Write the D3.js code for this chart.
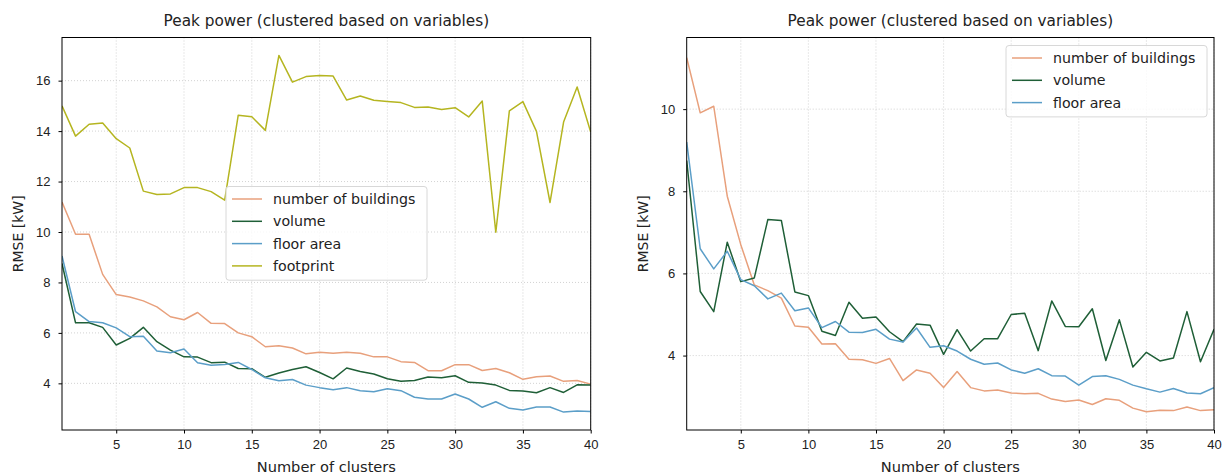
<!DOCTYPE html>
<html>
<head>
<meta charset="utf-8">
<script src="https://cdn.jsdelivr.net/npm/d3@7"></script>
<style>
  body { margin: 0; background: #fff; }
  svg { font-family: "DejaVu Sans", sans-serif; }
  .grid line { stroke: #c8c8c8; stroke-dasharray: 1,2; stroke-width: 0.8; }
  .axis text { font-size: 13px; fill: #222; }
  .axis path, .axis line { stroke: #000; }
</style>
</head>
<body>
<div id="chart"></div>
<script>
'use strict'

// x values: number of clusters
const clusters = d3.range(1, 41);

// left panel series
const leftBuildings = [11.19, 9.91, 9.91, 8.32, 7.52, 7.42, 7.27, 7.03, 6.64, 6.52,
  6.81, 6.38, 6.37, 6.0, 5.85, 5.45, 5.49, 5.40, 5.17, 5.23,
  5.19, 5.23, 5.19, 5.05, 5.05, 4.86, 4.83, 4.50, 4.50, 4.74,
  4.74, 4.51, 4.59, 4.42, 4.16, 4.26, 4.29, 4.08, 4.11, 3.97];
const leftVolume = [8.75, 6.40, 6.40, 6.22, 5.52, 5.78, 6.22, 5.65, 5.32, 5.05,
  5.04, 4.82, 4.84, 4.59, 4.58, 4.24, 4.41, 4.55, 4.66, 4.43,
  4.18, 4.61, 4.47, 4.37, 4.18, 4.08, 4.11, 4.25, 4.22, 4.30,
  4.04, 4.01, 3.93, 3.72, 3.70, 3.63, 3.83, 3.64, 3.94, 3.93];
const leftFloor = [9.05, 6.84, 6.45, 6.40, 6.20, 5.85, 5.87, 5.28, 5.21, 5.36,
  4.82, 4.72, 4.75, 4.83, 4.55, 4.22, 4.10, 4.15, 3.93, 3.83,
  3.75, 3.83, 3.71, 3.67, 3.79, 3.71, 3.45, 3.38, 3.38, 3.58,
  3.38, 3.05, 3.27, 3.01, 2.94, 3.06, 3.06, 2.86, 2.90, 2.88];
const leftFootprint = [15.0, 13.8, 14.27, 14.32, 13.70, 13.33, 11.62, 11.49, 11.51, 11.76,
  11.76, 11.60, 11.26, 14.63, 14.57, 14.03, 17.0, 15.94, 16.16, 16.2,
  16.18, 15.23, 15.39, 15.22, 15.17, 15.13, 14.94, 14.96, 14.86, 14.93,
  14.56, 15.19, 9.99, 14.80, 15.17, 13.99, 11.17, 14.36, 15.75, 13.96];

// right panel series
const rightBuildings = [11.25, 9.91, 10.07, 7.88, 6.70, 5.72, 5.58, 5.40, 4.72, 4.69,
  4.28, 4.29, 3.91, 3.90, 3.81, 3.93, 3.39, 3.65, 3.57, 3.22,
  3.61, 3.22, 3.14, 3.16, 3.09, 3.07, 3.08, 2.94, 2.88, 2.92,
  2.81, 2.95, 2.91, 2.72, 2.63, 2.67, 2.66, 2.75, 2.66, 2.68];
const rightVolume = [8.75, 5.56, 5.07, 6.76, 5.80, 5.89, 7.31, 7.29, 5.55, 5.46,
  4.59, 4.49, 5.30, 4.91, 4.94, 4.58, 4.34, 4.77, 4.74, 4.03,
  4.63, 4.11, 4.41, 4.41, 5.0, 5.03, 4.12, 5.33, 4.71, 4.70,
  5.14, 3.88, 4.87, 3.72, 4.08, 3.87, 3.94, 5.07, 3.85, 4.64];
const rightFloor = [9.2, 6.60, 6.11, 6.54, 5.85, 5.70, 5.38, 5.52, 5.09, 5.16,
  4.68, 4.83, 4.57, 4.56, 4.64, 4.40, 4.33, 4.67, 4.20, 4.24,
  4.11, 3.91, 3.79, 3.82, 3.65, 3.57, 3.68, 3.51, 3.50, 3.28,
  3.49, 3.51, 3.42, 3.28, 3.19, 3.11, 3.20, 3.09, 3.07, 3.22];

const xTicks = [5, 10, 15, 20, 25, 30, 35, 40];
const leftYTicks = [4, 6, 8, 10, 12, 14, 16];
const rightYTicks = [4, 6, 8, 10];

const colors = {
  buildings: '#e8a07c',
  volume: '#1f5f37',
  floor: '#5b9ec8',
  footprint: '#b5b520'
};

const W = 1228, H = 476;
const svg = d3.select('#chart').append('svg')
  .attr('width', W)
  .attr('height', H);

function panel(opt) {
  let x = d3.scaleLinear().domain([1, 40]).range([opt.left, opt.right]),
      y = d3.scaleLinear().domain(opt.ydomain).range([opt.bottom, opt.top]);
  let g = svg.append('g');

  // grid
  let grid = g.append('g').attr('class', 'grid');
  grid.selectAll('.gx').data(xTicks).enter().append('line')
    .attr('x1', d => x(d)).attr('x2', d => x(d))
    .attr('y1', opt.top).attr('y2', opt.bottom);
  grid.selectAll('.gy').data(opt.yticks).enter().append('line')
    .attr('y1', d => y(d)).attr('y2', d => y(d))
    .attr('x1', opt.left).attr('x2', opt.right);

  // lines
  let line = d3.line()
    .x((d, i) => x(clusters[i]))
    .y(d => y(d));
  g.append('defs').append('clipPath').attr('id', opt.id + 'clip')
    .append('rect')
    .attr('x', opt.left).attr('y', opt.top)
    .attr('width', opt.right - opt.left).attr('height', opt.bottom - opt.top);
  let lines = g.append('g').attr('clip-path', `url(#${opt.id}clip)`);
  opt.series.forEach(s => {
    lines.append('path')
      .datum(s.values)
      .attr('fill', 'none')
      .attr('stroke', s.color)
      .attr('stroke-width', 1.5)
      .attr('stroke-linejoin', 'round')
      .attr('d', line);
  });

  // axes
  g.append('g')
    .attr('class', 'axis')
    .attr('transform', `translate(0,${opt.bottom})`)
    .call(d3.axisBottom(x).tickValues(xTicks).tickSizeOuter(0).tickSize(3.5).tickPadding(6))
    .call(a => a.select('.domain').remove());
  g.append('g')
    .attr('class', 'axis')
    .attr('transform', `translate(${opt.left},0)`)
    .call(d3.axisLeft(y).tickValues(opt.yticks).tickSizeOuter(0).tickSize(3.5).tickPadding(8))
    .call(a => a.select('.domain').remove());

  // frame
  g.append('rect')
    .attr('x', opt.left).attr('y', opt.top)
    .attr('width', opt.right - opt.left).attr('height', opt.bottom - opt.top)
    .attr('fill', 'none').attr('stroke', '#000').attr('stroke-width', 1);

  // title and labels
  let cx = (opt.left + opt.right) / 2;
  g.append('text')
    .attr('x', cx).attr('y', 26)
    .attr('text-anchor', 'middle')
    .style('font-size', '15.3px').attr('fill', '#222')
    .text('Peak power (clustered based on variables)');
  g.append('text')
    .attr('x', cx).attr('y', 472)
    .attr('text-anchor', 'middle')
    .style('font-size', '14.6px').attr('fill', '#222')
    .text('Number of clusters');
  g.append('text')
    .attr('transform', `translate(${opt.left - 39},${(opt.top + opt.bottom) / 2}) rotate(-90)`)
    .attr('text-anchor', 'middle')
    .style('font-size', '14px').attr('fill', '#222')
    .text('RMSE [kW]');

  // legend
  let lg = g.append('g').attr('transform', `translate(${opt.legend.x},${opt.legend.y})`);
  lg.append('rect')
    .attr('width', opt.legend.w).attr('height', opt.series.length * 22.3 + 4.5)
    .attr('rx', 3)
    .attr('fill', 'rgba(255,255,255,0.8)')
    .attr('stroke', '#d8d8d8');
  opt.series.forEach((s, i) => {
    let yy = 12.5 + i * 22.3;
    lg.append('line')
      .attr('x1', 6).attr('x2', 36).attr('y1', yy).attr('y2', yy)
      .attr('stroke', s.color).attr('stroke-width', 1.5);
    lg.append('text')
      .attr('x', 47).attr('y', yy).attr('dy', '0.35em')
      .style('font-size', '14.2px').attr('fill', '#222')
      .text(s.name);
  });
}

panel({
  id: 'l',
  left: 62, right: 590.7, top: 37.5, bottom: 430,
  ydomain: [4 - 46.7 / 25.25, 16 + 43.2 / 25.25],
  yticks: leftYTicks,
  legend: { x: 226, y: 186.5, w: 201 },
  series: [
    { name: 'number of buildings', values: leftBuildings, color: colors.buildings },
    { name: 'volume', values: leftVolume, color: colors.volume },
    { name: 'floor area', values: leftFloor, color: colors.floor },
    { name: 'footprint', values: leftFootprint, color: colors.footprint }
  ]
});

panel({
  id: 'r',
  left: 686.7, right: 1214, top: 37.5, bottom: 430,
  ydomain: [4 - 74.3 / 41, 10 + 71.5 / 41],
  yticks: rightYTicks,
  legend: { x: 1006, y: 45.5, w: 201 },
  series: [
    { name: 'number of buildings', values: rightBuildings, color: colors.buildings },
    { name: 'volume', values: rightVolume, color: colors.volume },
    { name: 'floor area', values: rightFloor, color: colors.floor }
  ]
});
</script>
</body>
</html>
